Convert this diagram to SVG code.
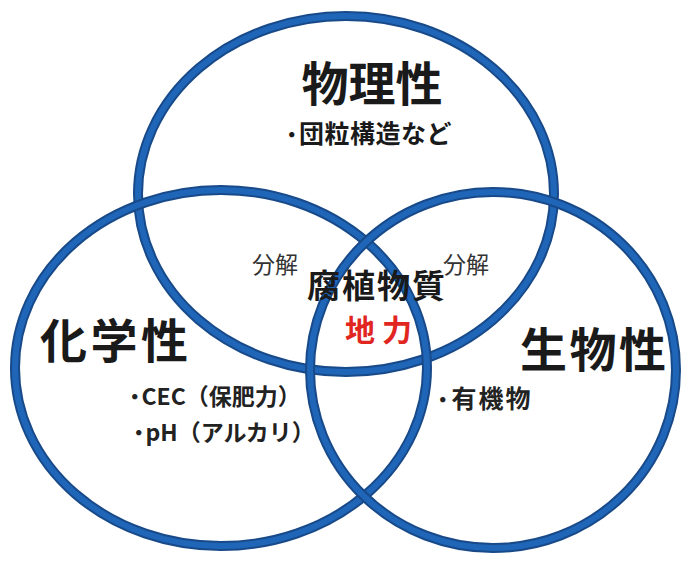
<svg xmlns="http://www.w3.org/2000/svg" width="682" height="561" viewBox="0 0 682 561">
<style>
.ring-o{fill:none;stroke:#184a8a;stroke-width:10}
.ring-i{fill:none;stroke:#1f66b8;stroke-width:6}
text{font-family:"Noto Sans CJK JP","Noto Sans",sans-serif;fill:#1a1a1a}
.big{font-size:47px;font-weight:700}
.mid{font-size:23px;font-weight:700;fill:#222}
.bio{font-size:25px;font-weight:700;fill:#222;letter-spacing:2px}
.sub{font-size:25px;font-weight:700;letter-spacing:0.5px}
.dec{font-size:23px;font-weight:400;fill:#333}
.core{font-size:33px;font-weight:700}
.red{font-size:30px;font-weight:700;fill:#e0261f}
.dot{font-size:27px}
</style>
<rect width="682" height="561" fill="#ffffff"/>
<g id="connectors">
<g id="circle-physical"><ellipse class="ring-o" cx="346" cy="194" rx="208" ry="178"/><ellipse class="ring-i" cx="346" cy="194" rx="208" ry="178"/></g>
<g id="circle-chemical"><ellipse class="ring-o" cx="221" cy="368" rx="206" ry="178"/><ellipse class="ring-i" cx="221" cy="368" rx="206" ry="178"/></g>
<g id="circle-biological"><ellipse class="ring-o" cx="493" cy="370" rx="183" ry="178"/><ellipse class="ring-i" cx="493" cy="370" rx="183" ry="178"/></g>
</g>
<g id="node-physical">
<text class="big" x="372" y="101" text-anchor="middle">物理性</text>
<text class="sub" x="285" y="143"><tspan class="dot" dy="2">･</tspan><tspan dy="-2">団粒構造など</tspan></text>
</g>
<g id="node-chemical">
<text class="big" x="40" y="358" textLength="148">化学性</text>
<text class="mid" x="128" y="405"><tspan class="dot" dy="2">･</tspan><tspan dy="-2">CEC（保肥力）</tspan></text>
<text class="mid" x="132" y="441"><tspan class="dot" dy="2">･</tspan><tspan dy="-2">pH（アルカリ）</tspan></text>
</g>
<g id="node-biological">
<text class="big" x="520" y="367" textLength="146">生物性</text>
<text class="bio" x="436" y="408"><tspan class="dot" dy="2">･</tspan><tspan dy="-2">有機物</tspan></text>
</g>
<g id="node-center">
<text class="dec" x="252" y="273">分解</text>
<text class="dec" x="443" y="273">分解</text>
<text class="core" x="307" y="298" textLength="138">腐植物質</text>
<text class="red" x="345" y="341" textLength="67">地力</text>
</g>
</svg>
